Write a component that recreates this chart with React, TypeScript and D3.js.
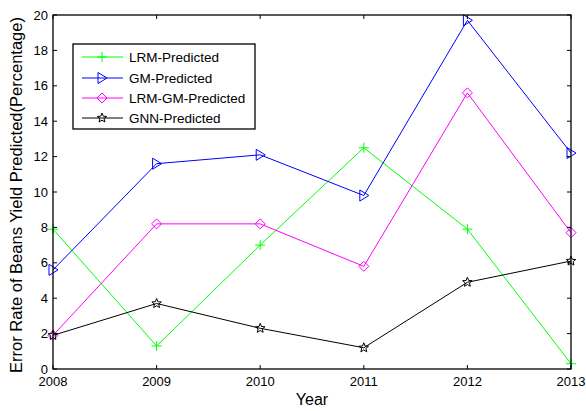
import React from "react";
import * as d3 from "d3";

const years = [2008, 2009, 2010, 2011, 2012, 2013];
const lrm = [7.9, 1.3, 7.0, 12.5, 7.9, 0.3];
const gm = [5.6, 11.6, 12.1, 9.8, 19.7, 12.2];
const lrmgm = [1.9, 8.2, 8.2, 5.8, 15.6, 7.7];
const gnn = [1.9, 3.7, 2.3, 1.2, 4.9, 6.1];
const yTicks = [0, 2, 4, 6, 8, 10, 12, 14, 16, 18, 20];
const seriesNames = ["LRM-Predicted", "GM-Predicted", "LRM-GM-Predicted", "GNN-Predicted"];
const seriesColors = ["#00ff00", "#0000ff", "#ff00ff", "#000000"];
const seriesMarkers = ["plus", "tri", "diamond", "star"];

const W = 586, H = 411;
const L = 53, R = 571, T = 15, B = 369;

function Marker({ type, x, y, color }: { type: string; x: number; y: number; color: string }) {
  if (type === "plus") {
    return <path d={`M${x - 5},${y}H${x + 5}M${x},${y - 5}V${y + 5}`} stroke={color} strokeWidth={1} fill="none" />;
  }
  if (type === "tri") {
    return <path d={`M${x - 4},${y - 5.5}L${x + 5},${y}L${x - 4},${y + 5.5}Z`} stroke={color} strokeWidth={1} fill="none" />;
  }
  if (type === "diamond") {
    return <path d={`M${x},${y - 5}L${x + 5},${y}L${x},${y + 5}L${x - 5},${y}Z`} stroke={color} strokeWidth={1} fill="none" />;
  }
  const pts: string[] = [];
  for (let i = 0; i < 10; i++) {
    const r = i % 2 === 0 ? 5 : 2.2;
    const a = -Math.PI / 2 + (i * Math.PI) / 5;
    pts.push(`${x + r * Math.cos(a)},${y + r * Math.sin(a)}`);
  }
  return <path d={`M${pts.join("L")}Z`} stroke={color} strokeWidth={1} fill="none" />;
}

export default function App() {
  const x = d3.scaleLinear().domain([2008, 2013]).range([L, R]);
  const y = d3.scaleLinear().domain([0, 20]).range([B, T]);
  const data = [lrm, gm, lrmgm, gnn];
  const line = d3.line<number>().x((_, i) => x(years[i])).y((d) => y(d));
  const font = "Arial, 'Liberation Sans', sans-serif";
  const legX = 73, legY = 44, legW = 182, legH = 85;
  const legRows = [57, 78, 98, 118];
  return (
    <svg width={W} height={H} style={{ position: "absolute", left: 0, top: 0 }} fontFamily={font}>
      <rect x={0} y={0} width={W} height={H} fill="#fff" />
      {data.map((s, k) => (
        <path key={k} d={line(s) || ""} fill="none" stroke={seriesColors[k]} strokeWidth={1} />
      ))}
      {data.map((s, k) =>
        s.map((v, i) => <Marker key={`${k}-${i}`} type={seriesMarkers[k]} x={x(years[i])} y={y(v)} color={seriesColors[k]} />)
      )}
      <rect x={L} y={T} width={R - L} height={B - T} fill="none" stroke="#000" strokeWidth={1.3} />
      {yTicks.map((t) => (
        <g key={t}>
          <line x1={L} x2={L + 4} y1={y(t)} y2={y(t)} stroke="#000" />
          <line x1={R} x2={R - 4} y1={y(t)} y2={y(t)} stroke="#000" />
          <text x={L - 5} y={y(t)} dy="0.35em" textAnchor="end" fontSize={13}>{t}</text>
        </g>
      ))}
      {years.map((t) => (
        <g key={t}>
          <line x1={x(t)} x2={x(t)} y1={B} y2={B - 4} stroke="#000" />
          <line x1={x(t)} x2={x(t)} y1={T} y2={T + 4} stroke="#000" />
          <text x={x(t)} y={B + 17} textAnchor="middle" fontSize={13}>{t}</text>
        </g>
      ))}
      <text x={(L + R) / 2} y={405} textAnchor="middle" fontSize={16}>Year</text>
      <text transform={`translate(22,${(T + B) / 2 + 3}) rotate(-90)`} textAnchor="middle" fontSize={16.5}>
        Error Rate of Beans Yield Predicted(Percentage)
      </text>
      <rect x={legX} y={legY} width={legW} height={legH} fill="#fff" stroke="#000" strokeWidth={1.3} />
      {seriesNames.map((n, k) => (
        <g key={n}>
          <line x1={82} x2={123} y1={legRows[k]} y2={legRows[k]} stroke={seriesColors[k]} />
          <Marker type={seriesMarkers[k]} x={102} y={legRows[k]} color={seriesColors[k]} />
          <text x={129} y={legRows[k]} dy="0.35em" fontSize={13.5}>{n}</text>
        </g>
      ))}
    </svg>
  );
}
